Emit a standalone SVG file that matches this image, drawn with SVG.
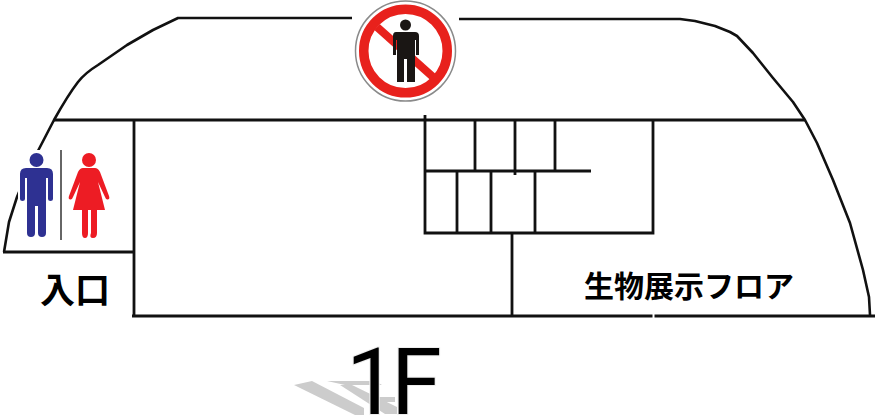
<svg xmlns="http://www.w3.org/2000/svg" width="875" height="418" viewBox="0 0 875 418">
<style>
.w{fill:none;stroke:#111;stroke-width:2.800}
.o{fill:none;stroke:#111;stroke-width:2.600;stroke-linejoin:round}
.j{font-family:"Noto Sans CJK JP","Liberation Sans",sans-serif;font-weight:700;fill:#000}
.f{font-family:Roboto,"Liberation Sans",sans-serif;font-size:92px;fill:#000}
</style>
<defs><filter id="soft" x="-10%" y="-10%" width="120%" height="120%"><feGaussianBlur stdDeviation="0.700"/></filter></defs>
<rect width="875" height="418" fill="#fff"/>
<g id="outline">
<path class="o" d="M352 18H178L153 30L127 45L98 65Q85 73 78 82Q68 95 54 120L40 147L28 170L17 197L9 222L4 252"/>
<path class="o" d="M459 19H680L695 21L715 26L730 32L737 36L753 53L773 78L793 102L805 120L817 143L833 180L850 223L863 270L869 297L870 315"/>
</g>
<g id="walls">
<path class="w" d="M54 120H805M134 120V316M3 252H134M132 316H652.500M654.500 316H875M512 233V316"/>
<path class="w" d="M425 115V233H653V120M475 120V171M515 120V175M555 120V171M425 171H591M457 171V233M491 171V233M535 171V233"/>
</g>
<g id="no-entry-sign">
<circle cx="405.500" cy="51" r="50" fill="#fff" stroke="#8a8a8a" stroke-width="1.500"/>
<circle cx="405.500" cy="51" r="41.750" fill="#fff" stroke="#e8211c" stroke-width="9.500"/>
<path d="M377 27L433 77" stroke="#e8211c" stroke-width="8"/>
<g fill="#1a1614">
<circle cx="405.500" cy="25" r="5.500"/>
<path d="M396 32H415Q419 32 419 36V55H416V40H415V82H407V59H404V82H397V40H396V55H393V36Q393 32 396 32Z"/>
</g>
</g>
<g id="restroom-sign">
<rect x="18" y="150" width="94" height="90" fill="#fff"/>
<g fill="#2e3192">
<circle cx="36.500" cy="160" r="7"/>
<path d="M26 168H47Q53 168 53 174V199Q53 201 50.500 201T48 199V178H46V233Q46 237 42 237T38 233V206H35V233Q35 237 31 237T27 233V178H25V199Q25 201 22.500 201T20 199V174Q20 168 26 168Z"/>
</g>
<path d="M61 150V240" stroke="#666" stroke-width="2"/>
<g fill="#ed1c24">
<circle cx="89" cy="160" r="7"/>
<path d="M83 168H95Q98 168 100 172L109 196Q110 199 108 199.500T105 197L98 182L105 210H97V233Q97 238 93 238T91 233V210H88V233Q88 238 85 238T82 233V210H73L80 182L73 197Q72 200 70 199.500T69 196L78 172Q80 168 83 168Z"/>
</g>
</g>
<g id="labels">
<text class="j" x="40" y="303" font-size="35">入口</text>
<text class="j" x="584" y="297" font-size="30">生物展示フロア</text>
</g>
<g id="floor-label">
<g fill="#ccc" filter="url(#soft)">
<path d="M294 385L312 381L364 408V415H355Z"/>
<path d="M327 381H375L382 385H345Z"/>
<path d="M340 385H352L397 407V414H385Z"/>
<path d="M372 397H395V402H378Z"/>
</g>
<text class="f" x="346 391" y="413.500" stroke="#eee" stroke-width="2" paint-order="stroke">1F</text>
</g>
</svg>
